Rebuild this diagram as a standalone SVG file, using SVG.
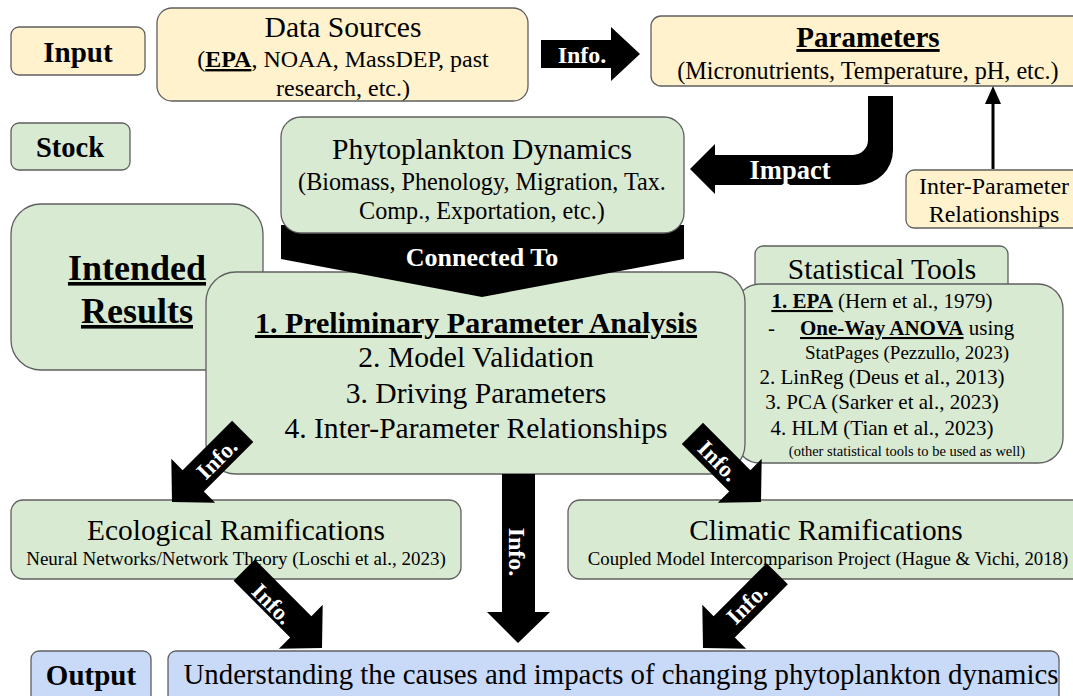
<svg xmlns="http://www.w3.org/2000/svg" width="1073" height="696" viewBox="0 0 1073 696" font-family="'Liberation Serif', 'Times New Roman', Tinos, 'DejaVu Serif', serif">
  <defs>
    <style>
      .box { stroke: #5f5f5f; stroke-width: 1.3; }
      .tan { fill: #fff2cc; }
      .green { fill: #d9ead3; }
      .blue { fill: #c9daf8; }
      text { font-family: 'Liberation Serif', 'Times New Roman', Tinos, 'DejaVu Serif', serif; fill: #000; }
      .c { text-anchor: middle; }
      .b { font-weight: bold; }
      .u { text-decoration: underline; }
      .arrow { fill: #000; }
      .lbl { font-weight: bold; fill: #fff; text-anchor: middle; }
    </style>
  </defs>

  <rect width="1073" height="696" fill="#fff"/>

  <!-- section labels -->
  <g id="input-label">
    <rect class="box tan" x="11" y="27" width="134" height="48" rx="8"/>
    <text class="c b" x="78" y="62" font-size="29">Input</text>
  </g>
  <g id="stock-label">
    <rect class="box green" x="11" y="123" width="119" height="47" rx="8"/>
    <text class="c b" x="70" y="157" font-size="28.5">Stock</text>
  </g>
  <g id="intended-results">
    <rect class="box green" x="11" y="204" width="252" height="166" rx="30"/>
    <text class="c b u" x="137" y="280" font-size="36">Intended</text>
    <text class="c b u" x="137" y="323" font-size="36">Results</text>
  </g>
  <g id="output-label">
    <rect class="box blue" x="31" y="651" width="120" height="60" rx="8"/>
    <text class="c b" x="91" y="685" font-size="29">Output</text>
  </g>

  <!-- input row -->
  <g id="data-sources">
    <rect class="box tan" x="157" y="8" width="371" height="93" rx="15"/>
    <text class="c" x="343" y="37" font-size="29.6">Data Sources</text>
    <text class="c" x="343" y="67" font-size="24">(<tspan class="b u">EPA</tspan>, NOAA, MassDEP, past</text>
    <text class="c" x="343" y="96" font-size="24">research, etc.)</text>
  </g>
  <g id="parameters">
    <rect class="box tan" x="651" y="16" width="440" height="70" rx="10"/>
    <text class="c b u" x="868" y="47" font-size="29">Parameters</text>
    <text class="c" x="868" y="79" font-size="24.2">(Micronutrients, Temperature, pH, etc.)</text>
  </g>
  <g id="inter-parameter">
    <rect class="box tan" x="906" y="170" width="180" height="58" rx="8"/>
    <text class="c" x="994" y="194" font-size="24">Inter-Parameter</text>
    <text class="c" x="994" y="222" font-size="24">Relationships</text>
  </g>

  <!-- statistical tools -->
  <g id="statistical-tools">
    <rect class="box green" x="755" y="246" width="253" height="60" rx="8"/>
    <text class="c" x="882" y="279" font-size="29.5">Statistical Tools</text>
    <rect class="box green" x="735" y="284" width="328" height="179" rx="25"/>
    <text class="c" x="882" y="308" font-size="21"><tspan class="b u">1. EPA</tspan> (Hern et al., 1979)</text>
    <text x="768" y="335" font-size="21">-</text>
    <text x="800" y="335" font-size="21"><tspan class="b u">One-Way ANOVA</tspan> using</text>
    <text class="c" x="907" y="359" font-size="19">StatPages (Pezzullo, 2023)</text>
    <text class="c" x="882" y="384" font-size="21">2. LinReg (Deus et al., 2013)</text>
    <text class="c" x="882" y="409" font-size="21">3. PCA (Sarker et al., 2023)</text>
    <text class="c" x="882" y="435" font-size="21">4. HLM (Tian et al., 2023)</text>
    <text class="c" x="907" y="456" font-size="14.5">(other statistical tools to be used as well)</text>
  </g>

  <!-- results -->
  <g id="analysis">
    <rect class="box green" x="206" y="272" width="539" height="202" rx="30"/>
    <text class="c b u" x="476" y="333" font-size="30">1. Preliminary Parameter Analysis</text>
    <text class="c" x="476" y="367" font-size="29.6">2. Model Validation</text>
    <text class="c" x="476" y="403" font-size="29.6">3. Driving Parameters</text>
    <text class="c" x="476" y="438" font-size="29.6">4. Inter-Parameter Relationships</text>
  </g>
  <g id="ecological">
    <rect class="box green" x="11" y="500" width="450" height="79" rx="12"/>
    <text class="c" x="236" y="540" font-size="29.4">Ecological Ramifications</text>
    <text class="c" x="236" y="565" font-size="19">Neural Networks/Network Theory (Loschi et al., 2023)</text>
  </g>
  <g id="climatic">
    <rect class="box green" x="568" y="500" width="520" height="79" rx="12"/>
    <text class="c" x="826" y="540" font-size="29.4">Climatic Ramifications</text>
    <text class="c" x="828" y="565" font-size="18.8">Coupled Model Intercomparison Project (Hague &amp; Vichi, 2018)</text>
  </g>
  <g id="output">
    <rect class="box blue" x="168" y="651" width="891" height="60" rx="8"/>
    <text class="c" x="621" y="684" font-size="28.8">Understanding the causes and impacts of changing phytoplankton dynamics</text>
  </g>

  <!-- connectors -->
  <g id="connectors">
    <!-- Data Sources to Parameters -->
    <polygon class="arrow" points="541,40 611,40 611,27 640,54 611,81 611,68 541,68"/>
    <text class="lbl" x="582" y="63" font-size="24">Info.</text>

    <!-- Parameters to Phytoplankton Dynamics -->
    <path class="arrow" d="M868 96 H893 V150 A35 35 0 0 1 858 185 H715 V194 L690 169 L715 144 V155 H853 A15 15 0 0 0 868 140 Z"/>
    <text class="lbl" x="790" y="179" font-size="26.5">Impact</text>

    <!-- Inter-Parameter Relationships to Parameters -->
    <line x1="993" y1="169" x2="993" y2="102" stroke="#000" stroke-width="3"/>
    <polygon class="arrow" points="985,104 993,86 1001,104"/>

    <!-- Phytoplankton Dynamics to analysis -->
    <polygon class="arrow" points="281,225 684,225 684,259 482,297 281,259"/>
    <text class="lbl" x="482" y="266" font-size="26">Connected To</text>

    <!-- analysis to ramifications -->
    <polygon class="arrow" transform="translate(172,502) rotate(135)" points="-100,-15 -30,-15 -30,-31 0,0 -30,31 -30,15 -100,15"/>
    <text class="lbl" transform="translate(216,458) rotate(-45)" x="0" y="9" font-size="23">Info.</text>

    <polygon class="arrow" transform="translate(761,502) rotate(45)" points="-97,-15 -30,-15 -30,-31 0,0 -30,31 -30,15 -97,15"/>
    <text class="lbl" transform="translate(719,460) rotate(45)" x="0" y="9" font-size="23">Info.</text>

    <!-- analysis to output -->
    <polygon class="arrow" points="502,474 535,474 535,612 550,612 518,643 487,612 502,612"/>
    <text class="lbl" transform="translate(518,552) rotate(90)" x="0" y="9" font-size="24">Info.</text>

    <!-- ramifications to output -->
    <polygon class="arrow" transform="translate(322,648) rotate(45)" points="-110,-15 -30,-15 -30,-31 0,0 -30,31 -30,15 -110,15"/>
    <text class="lbl" transform="translate(273,603) rotate(45)" x="0" y="9" font-size="23">Info.</text>

    <polygon class="arrow" transform="translate(703,648) rotate(135)" points="-105,-15 -30,-15 -30,-31 0,0 -30,31 -30,15 -105,15"/>
    <text class="lbl" transform="translate(746,603) rotate(-45)" x="0" y="9" font-size="23">Info.</text>
  </g>

  <!-- stock -->
  <g id="phytoplankton">
    <rect class="box green" x="281" y="117" width="403" height="116" rx="20"/>
    <text class="c" x="482" y="159" font-size="29.6">Phytoplankton Dynamics</text>
    <text class="c" x="482" y="190" font-size="24.2">(Biomass, Phenology, Migration, Tax.</text>
    <text class="c" x="482" y="219" font-size="24.2">Comp., Exportation, etc.)</text>
  </g>
</svg>
